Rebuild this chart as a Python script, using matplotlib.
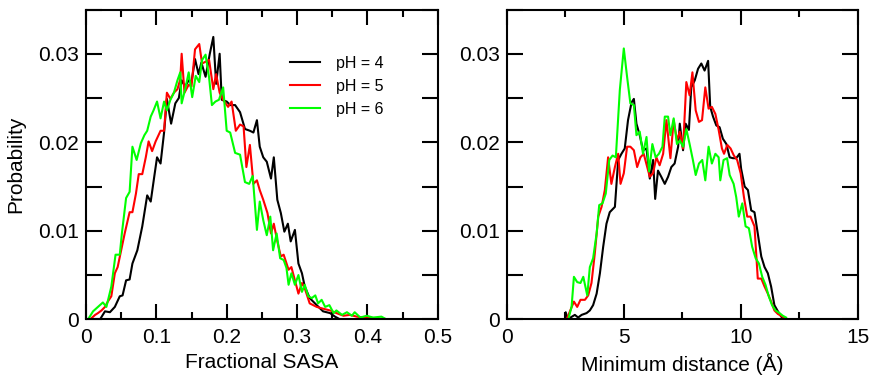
import matplotlib
matplotlib.use("Agg")
import matplotlib.pyplot as plt
from matplotlib.ticker import MultipleLocator, FixedLocator, FuncFormatter

plt.rcParams['font.family'] = ['Liberation Sans', 'DejaVu Sans']

# ---- Fractional SASA distributions ----
sasa_x_ph4 = [0, 0.02, 0.027, 0.034, 0.041, 0.048, 0.052, 0.057, 0.062, 0.066, 0.073, 0.080,
              0.087, 0.092, 0.097, 0.101, 0.106, 0.111, 0.115, 0.121, 0.127, 0.132, 0.136, 0.141,
              0.146, 0.150, 0.155, 0.160, 0.164, 0.170, 0.176, 0.181, 0.185, 0.190, 0.193, 0.200,
              0.205, 0.212, 0.219, 0.226, 0.233, 0.238, 0.243, 0.247, 0.252, 0.257, 0.263, 0.267,
              0.272, 0.277, 0.282, 0.287, 0.291, 0.297, 0.302, 0.307, 0.311, 0.318, 0.328, 0.337,
              0.347, 0.354, 0.361, 0.40]
sasa_y_ph4 = [0, 0, 0.0009, 0.0008, 0.0014, 0.0026, 0.0027, 0.0044, 0.0045, 0.0063, 0.0078, 0.0105,
              0.014, 0.0133, 0.0161, 0.0183, 0.0176, 0.0211, 0.0249, 0.0221, 0.0244, 0.025, 0.027, 0.0263,
              0.027, 0.0268, 0.0294, 0.0277, 0.029, 0.0274, 0.030, 0.0319, 0.0266, 0.030, 0.0248, 0.0246,
              0.0242, 0.0242, 0.0234, 0.0215, 0.0213, 0.0211, 0.0225, 0.0195, 0.0183, 0.0178, 0.0159, 0.0183,
              0.0135, 0.0120, 0.0099, 0.0108, 0.0088, 0.0101, 0.0063, 0.0052, 0.0037, 0.0024, 0.0016, 0.0009,
              0.0007, 0.0003, 0, 0]

sasa_x_ph5 = [0, 0.006, 0.013, 0.017, 0.022, 0.027, 0.031, 0.036, 0.041, 0.045, 0.050, 0.055,
              0.062, 0.066, 0.071, 0.075, 0.080, 0.085, 0.089, 0.094, 0.099, 0.106, 0.111, 0.115,
              0.120, 0.125, 0.130, 0.134, 0.136, 0.140, 0.146, 0.150, 0.155, 0.161, 0.165, 0.170,
              0.175, 0.181, 0.185, 0.190, 0.195, 0.202, 0.207, 0.213, 0.219, 0.224, 0.228, 0.233,
              0.238, 0.243, 0.247, 0.252, 0.258, 0.263, 0.267, 0.272, 0.277, 0.281, 0.288, 0.292,
              0.297, 0.302, 0.307, 0.311, 0.318, 0.328, 0.337, 0.347, 0.356, 0.366, 0.375, 0.385,
              0.394, 0.404, 0.413, 0.427, 0.437]
sasa_y_ph5 = [0, 0, 0.0005, 0.0007, 0.001, 0.0014, 0.002, 0.0026, 0.0052, 0.0059, 0.0078, 0.0097,
              0.0121, 0.0121, 0.0142, 0.0164, 0.0164, 0.0183, 0.0201, 0.019, 0.0201, 0.0213, 0.0213, 0.0256,
              0.0249, 0.0256, 0.026, 0.0271, 0.030, 0.0256, 0.0265, 0.0263, 0.0305, 0.0311, 0.0289, 0.0291,
              0.0293, 0.026, 0.0277, 0.0256, 0.0248, 0.024, 0.0246, 0.0213, 0.022, 0.0218, 0.0172, 0.0197,
              0.0153, 0.0157, 0.0146, 0.0135, 0.012, 0.0097, 0.0108, 0.0088, 0.0071, 0.0073, 0.0056, 0.0059,
              0.0044, 0.0029, 0.0041, 0.0035, 0.0018, 0.0014, 0.0012, 0.001, 0.0007, 0.0004, 0.0005, 0.0003,
              0.0002, 0.0002, 0.0001, 0, 0]

sasa_x_ph6 = [0, 0.003, 0.010, 0.017, 0.024, 0.029, 0.036, 0.042, 0.048, 0.051, 0.057, 0.062,
              0.066, 0.072, 0.078, 0.083, 0.087, 0.092, 0.096, 0.101, 0.106, 0.111, 0.115, 0.120,
              0.125, 0.130, 0.134, 0.136, 0.141, 0.146, 0.151, 0.156, 0.161, 0.165, 0.170, 0.175,
              0.179, 0.184, 0.189, 0.195, 0.200, 0.205, 0.212, 0.219, 0.226, 0.232, 0.237, 0.243,
              0.247, 0.252, 0.257, 0.262, 0.266, 0.271, 0.276, 0.281, 0.285, 0.288, 0.292, 0.297,
              0.302, 0.307, 0.311, 0.316, 0.321, 0.326, 0.330, 0.335, 0.340, 0.346, 0.352, 0.356,
              0.364, 0.371, 0.378, 0.382, 0.390, 0.399, 0.408, 0.420, 0.427, 0.44]
sasa_y_ph6 = [0, 0, 0.0009, 0.0014, 0.0019, 0.0014, 0.0037, 0.0073, 0.0073, 0.0097, 0.0137, 0.0144,
              0.0195, 0.018, 0.0199, 0.0208, 0.0213, 0.0229, 0.0236, 0.0246, 0.0227, 0.0246, 0.0236, 0.0248,
              0.0256, 0.027, 0.0279, 0.0244, 0.026, 0.0279, 0.0251, 0.0275, 0.0268, 0.0293, 0.0299, 0.0273,
              0.0242, 0.0246, 0.0248, 0.0262, 0.0213, 0.0211, 0.0188, 0.0186, 0.0155, 0.0153, 0.0162, 0.0101,
              0.0133, 0.0112, 0.0095, 0.0116, 0.0078, 0.0097, 0.0069, 0.0067, 0.0058, 0.0039, 0.0052, 0.0039,
              0.005, 0.0031, 0.0039, 0.0026, 0.0024, 0.0027, 0.0018, 0.0022, 0.0014, 0.0016, 0.0007, 0.001,
              0.0005, 0.0008, 0.0004, 0.0008, 0.0002, 0.0004, 0.0002, 0.0003, 0, 0]

# ---- Minimum distance distributions ----
dist_x_ph4 = [2.49, 2.52, 2.60, 2.91, 3.05, 3.20, 3.41, 3.55, 3.69, 3.84, 3.98, 4.12,
              4.26, 4.40, 4.62, 4.76, 4.90, 5.04, 5.18, 5.33, 5.43, 5.54, 5.68, 5.82,
              5.97, 6.11, 6.25, 6.34, 6.46, 6.60, 6.75, 6.89, 7.03, 7.17, 7.32, 7.39,
              7.53, 7.64, 7.78, 7.88, 8.03, 8.17, 8.31, 8.45, 8.60, 8.69, 8.81, 8.95,
              9.09, 9.23, 9.38, 9.52, 9.66, 9.80, 9.94, 10.01, 10.16, 10.30, 10.44, 10.58,
              10.72, 10.87, 11.01, 11.15, 11.29, 11.43, 11.58, 11.72, 11.86]
dist_y_ph4 = [0, 0.0008, 0, 0.0005, 0.0002, 0.0005, 0.0007, 0.001, 0.0016, 0.0029, 0.0052, 0.0082,
              0.0108, 0.0121, 0.0127, 0.018, 0.0187, 0.0193, 0.0225, 0.0245, 0.0249, 0.0221, 0.0208, 0.0191,
              0.0193, 0.0159, 0.018, 0.0136, 0.0168, 0.0161, 0.0153, 0.0161, 0.0172, 0.0176, 0.0195, 0.0221,
              0.0191, 0.0221, 0.0214, 0.0262, 0.027, 0.0283, 0.0289, 0.0281, 0.0292, 0.024, 0.0229, 0.0219,
              0.0217, 0.0204, 0.0198, 0.0183, 0.0182, 0.0182, 0.0187, 0.017, 0.015, 0.0146, 0.0123, 0.0121,
              0.0097, 0.0071, 0.0059, 0.0052, 0.0037, 0.0016, 0.0009, 0.0003, 0]

dist_x_ph5 = [2.56, 2.70, 2.87, 3.01, 3.15, 3.34, 3.48, 3.62, 3.76, 3.91, 4.05, 4.19,
              4.33, 4.47, 4.62, 4.76, 4.86, 5.00, 5.14, 5.28, 5.43, 5.57, 5.71, 5.85,
              6.00, 6.11, 6.25, 6.39, 6.53, 6.68, 6.82, 6.99, 7.13, 7.27, 7.39, 7.53,
              7.67, 7.81, 7.93, 8.07, 8.21, 8.34, 8.48, 8.62, 8.76, 8.91, 9.05, 9.19,
              9.28, 9.42, 9.56, 9.70, 9.84, 9.99, 10.13, 10.27, 10.41, 10.58, 10.72, 10.87,
              11.01, 11.15, 11.29, 11.43, 11.58, 11.72, 11.90]
dist_y_ph5 = [0, 0.0009, 0.002, 0.0014, 0.0022, 0.0022, 0.0027, 0.0041, 0.0074, 0.0116, 0.0127, 0.0146,
              0.0183, 0.0153, 0.0172, 0.0187, 0.0153, 0.0165, 0.0195, 0.0195, 0.0191, 0.0172, 0.0183, 0.0187,
              0.0172, 0.0161, 0.0165, 0.0183, 0.0174, 0.0187, 0.0225, 0.0182, 0.0225, 0.0202, 0.0212, 0.0193,
              0.0268, 0.0253, 0.0279, 0.0236, 0.0223, 0.0225, 0.0262, 0.0238, 0.024, 0.0232, 0.0214, 0.0193,
              0.0187, 0.0197, 0.0193, 0.0185, 0.018, 0.0165, 0.0138, 0.0116, 0.0116, 0.0105, 0.0046, 0.0046,
              0.0037, 0.0029, 0.002, 0.001, 0.0006, 0.0004, 0.0001]

dist_x_ph6 = [2.63, 2.77, 2.87, 3.01, 3.15, 3.27, 3.44, 3.55, 3.69, 3.84, 3.95, 4.09,
              4.23, 4.38, 4.52, 4.66, 4.83, 5.00, 5.14, 5.28, 5.43, 5.54, 5.68, 5.82,
              5.97, 6.08, 6.22, 6.36, 6.50, 6.65, 6.75, 6.89, 6.99, 7.13, 7.27, 7.39,
              7.53, 7.67, 7.81, 7.95, 8.07, 8.21, 8.35, 8.48, 8.62, 8.76, 8.91, 9.05,
              9.12, 9.26, 9.41, 9.52, 9.69, 9.80, 9.91, 10.06, 10.20, 10.34, 10.48, 10.63,
              10.77, 10.91, 11.05, 11.19, 11.33, 11.48, 11.65, 11.79, 11.93]
dist_y_ph6 = [0, 0.0014, 0.0048, 0.0042, 0.0041, 0.0048, 0.0027, 0.0059, 0.0069, 0.0097, 0.0129, 0.0131,
              0.0142, 0.018, 0.0185, 0.0183, 0.0259, 0.0306, 0.0274, 0.0244, 0.0242, 0.0208, 0.0212, 0.0187,
              0.0206, 0.0167, 0.0198, 0.0183, 0.0187, 0.0195, 0.0229, 0.0229, 0.0208, 0.0227, 0.0198, 0.0202,
              0.0195, 0.0215, 0.0198, 0.018, 0.0163, 0.0176, 0.018, 0.0157, 0.0195, 0.0176, 0.0187, 0.0183,
              0.0157, 0.018, 0.0182, 0.0163, 0.0153, 0.0138, 0.0116, 0.0131, 0.0105, 0.0103, 0.0082, 0.0069,
              0.0063, 0.0048, 0.0039, 0.0026, 0.0016, 0.001, 0.0007, 0.0004, 0.0002]

labels = ["pH = 4", "pH = 5", "pH = 6"]
colors = ["#000000", "#ff0000", "#00ff00"]

y_ticks = [0, 0.01, 0.02, 0.03]
y_tick_labels = ["0", "0.01", "0.02", "0.03"]

W, H = 871, 377
fig = plt.figure(figsize=(W / 100, H / 100), dpi=100)
ax1 = fig.add_axes([86 / W, 1 - 319.3 / H, 351.7 / W, 309.8 / H])
ax2 = fig.add_axes([506.7 / W, 1 - 319.3 / H, 351.3 / W, 309.8 / H])

for xs, ys, c, lab in zip([sasa_x_ph4, sasa_x_ph5, sasa_x_ph6],
                          [sasa_y_ph4, sasa_y_ph5, sasa_y_ph6], colors, labels):
    ax1.plot(xs, ys, color=c, lw=1.5, label=lab)
for xs, ys, c in zip([dist_x_ph4, dist_x_ph5, dist_x_ph6],
                     [dist_y_ph4, dist_y_ph5, dist_y_ph6], colors):
    ax2.plot(xs, ys, color=c, lw=1.5)

fs = 15
for ax in (ax1, ax2):
    ax.set_ylim(0, 0.035)
    ax.yaxis.set_major_locator(FixedLocator(y_ticks))
    ax.yaxis.set_minor_locator(MultipleLocator(0.005))
    for s in ax.spines.values():
        s.set_linewidth(1.5)
    ax.tick_params(which='both', direction='in', top=True, right=True, width=1.5)
    ax.tick_params(axis='x', which='major', length=10.8, pad=6.5, labelsize=fs)
    ax.tick_params(axis='x', which='minor', length=5.2)
    ax.tick_params(axis='y', which='both', length=11.2, pad=5, labelsize=fs)

ax1.set_yticklabels(y_tick_labels)
ax2.set_yticklabels(y_tick_labels)

ax1.set_xlim(0, 0.5)
ax1.xaxis.set_major_locator(MultipleLocator(0.1))
ax1.xaxis.set_minor_locator(MultipleLocator(0.05))
ax1.xaxis.set_major_formatter(FuncFormatter(lambda v, p: "0" if abs(v) < 1e-9 else f"{v:.1f}"))

ax2.set_xlim(0, 15)
ax2.xaxis.set_major_locator(MultipleLocator(5))
ax2.xaxis.set_minor_locator(MultipleLocator(2.5))
ax2.xaxis.set_major_formatter(FuncFormatter(lambda v, p: f"{v:.0f}"))

ax1.set_xlabel("Fractional SASA", fontsize=fs, labelpad=4)
ax2.set_xlabel("Minimum distance (Å)", fontsize=fs, labelpad=4)
ax1.set_ylabel("Probability", fontsize=fs, labelpad=9)

ax1.legend(loc='upper left', bbox_to_anchor=(290 / W, 1 - 56 / H), bbox_transform=fig.transFigure,
           frameon=False, fontsize=11.5, handlelength=1.9, handletextpad=1.0,
           labelspacing=0.5, borderpad=0, borderaxespad=0)

fig.savefig("out.png", dpi=100)
